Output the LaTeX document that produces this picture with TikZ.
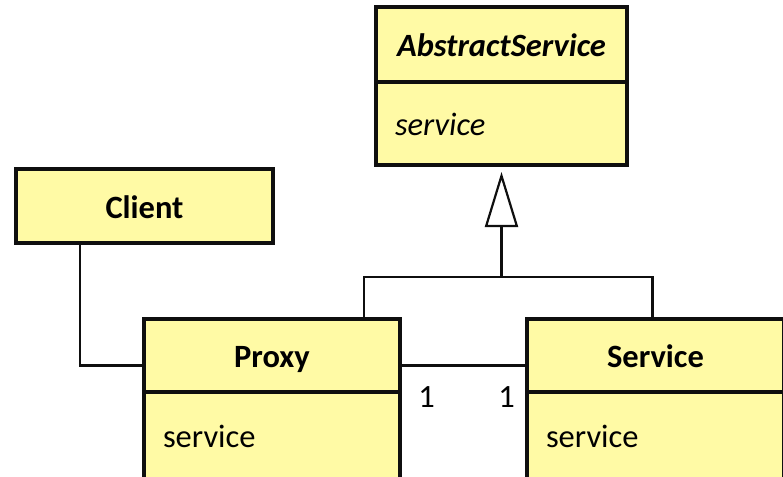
\documentclass[tikz,border=0pt]{standalone}
\usepackage{fontspec}
\setmainfont{Carlito}
\usetikzlibrary{arrows.meta}
\definecolor{box_yellow}{RGB}{255,250,165}
\definecolor{edge_black}{RGB}{15,15,15}

\begin{document}
\begin{tikzpicture}[x=1pt,y=-1pt,line width=2.2pt,draw=edge_black,font=\fontsize{32.5pt}{38pt}\selectfont]
    \tikzstyle{box}=[draw=edge_black, line width=3.2pt, fill=box_yellow, rectangle, inner sep=0pt, outer sep=0pt]
    \tikzstyle{title}=[style=box, font=\fontsize{32.5pt}{38pt}\selectfont\bfseries, text height=24pt, text depth=0pt, minimum height=73pt]
    \tikzstyle{attr}=[style=box, anchor=north, align=left, inner xsep=19pt, text height=23pt, text depth=0pt]
    \tikzstyle{mult}=[inner sep=0pt, text height=21pt, text depth=0pt]
    \tikzstyle{inherit}=[-{Triangle[open,length=55pt,width=33pt]}]

    \useasboundingbox (0,0) rectangle (783,476);

    \node[title, minimum width=251pt, minimum height=75pt] (abstract) at (501.5,44.5) {\textit{AbstractService}};
    \node[attr, minimum width=251pt, text width=213pt, minimum height=83pt] (abstractops) at (abstract.south) {\textit{service}};
    \node[title, minimum width=257pt, minimum height=74pt] (client) at (144.5,206) {Client};
    \node[title, minimum width=256pt] (proxy) at (272,355.5) {Proxy};
    \node[attr, minimum width=256pt, text width=218pt, minimum height=88pt] (proxyops) at (proxy.south) {service};
    \node[title, minimum width=257pt] (service) at (655.5,355.5) {Service};
    \node[attr, minimum width=257pt, text width=219pt, minimum height=88pt] (serviceops) at (service.south) {service};

    \coordinate (fork) at ([yshift=-112pt]abstractops.south);

    \draw ([xshift=-64.5pt]client.south) |- ([yshift=-10pt]proxy.west);
    \draw ([yshift=-10pt]proxy.east) -- node[mult, pos=0.21, yshift=-31.5pt] {1}
                                        node[mult, pos=0.84, yshift=-31.5pt] {1} ([yshift=-10pt]service.west);
    \draw ([xshift=92pt]proxy.north) |- (fork) -| ([xshift=-3pt]service.north);
    \draw[inherit] (fork) -- ([yshift=-7pt]abstractops.south);
\end{tikzpicture}
\end{document}
